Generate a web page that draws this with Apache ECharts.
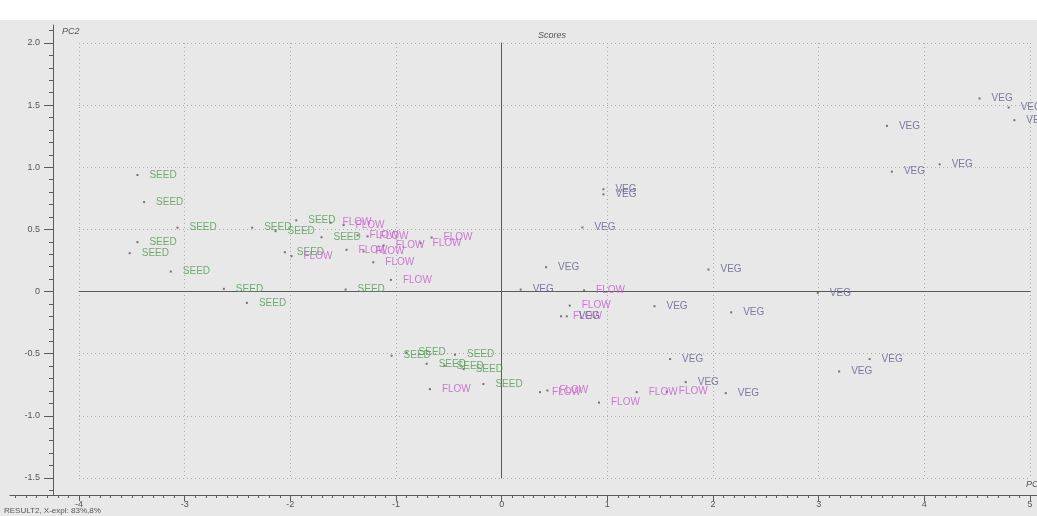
<!DOCTYPE html>
<html>
<head>
<meta charset="utf-8">
<script src="https://cdn.jsdelivr.net/npm/echarts@6/dist/echarts.min.js"></script>
<style>
  html, body { margin: 0; padding: 0; background: #e8e8e8; }
  #chart { width: 1037px; height: 516px; }
</style>
</head>
<body>
<div id="chart"></div>
<script>
// PCA scores (PC1 vs PC2) for the three growth stages
const seedX = [-3.447, -3.384, -3.068, -2.361, -3.447, -3.520, -3.131, -2.629, -2.411, -1.944, -2.140,
               -2.052, -1.705, -1.477, -1.042, -0.900, -0.442, -0.710, -0.540, -0.360, -0.173];
const seedY = [0.938, 0.720, 0.514, 0.514, 0.398, 0.309, 0.161, 0.022, -0.091, 0.573, 0.486,
               0.317, 0.437, 0.016, -0.516, -0.490, -0.508, -0.581, -0.597, -0.624, -0.744];

const flowX = [-1.989, -1.619, -1.496, -1.364, -1.269, -1.468, -1.307, -1.117, -0.663, -0.767, -1.215,
               -1.048, 0.780, 0.644, 0.562, -0.679, 0.363, 0.433, 0.921, 1.278, 1.563];
const flowY = [0.285, 0.554, 0.535, 0.452, 0.444, 0.336, 0.323, 0.371, 0.435, 0.390, 0.236,
               0.094, 0.010, -0.113, -0.199, -0.785, -0.809, -0.796, -0.893, -0.809, -0.806];

const vegX = [0.963, 0.963, 0.764, 0.420, 1.957, 0.180, 0.616, 1.446, 2.172, 2.992, 1.594,
              1.742, 2.121, 3.194, 3.482, 4.523, 4.798, 4.852, 3.646, 4.145, 3.693];
const vegY = [0.823, 0.782, 0.516, 0.196, 0.177, 0.016, -0.199, -0.118, -0.167, -0.011, -0.543,
              -0.728, -0.817, -0.643, -0.543, 1.554, 1.481, 1.379, 1.333, 1.024, 0.965];

const xTickValues = [-4, -3, -2, -1, 0, 1, 2, 3, 4, 5];
const xTickLabels = ['-4', '-3', '-2', '-1', '0', '1', '2', '3', '4', '5'];
const yTickValues = [-1.5, -1, -0.5, 0, 0.5, 1, 1.5, 2];
const yTickLabels = ['-1.5', '-1.0', '-0.5', '0', '0.5', '1.0', '1.5', '2.0'];

const classNames = ['SEED', 'FLOW', 'VEG'];
const classColors = ['#4f9a4f', '#c55ac9', '#5c5c8f'];

// minor tick positions every 0.1 along both outer rulers
function steps(from, to) {
  const out = [];
  for (let i = Math.round(from * 10); i <= Math.round(to * 10); i++) out.push(i / 10);
  return out;
}
const xMinor = steps(-4.6, 5.0);
const yMinor = steps(-1.6, 2.1);

function pairs(xs, ys) { return xs.map((x, i) => [x, ys[i]]); }
const seriesData = [pairs(seedX, seedY), pairs(flowX, flowY), pairs(vegX, vegY)];

const font = 'Liberation Sans, Arial, sans-serif';
const axisGrey = '#5a5a5a';

// outer ruler extents (the ruler frame is wider than the plot frame)
const PLOT = { left: 79, right: 7, top: 43, bottom: 38 };
const RULER = { left: 10, right: 0, top: 25, bottom: 21 };
const ux = (1037 - PLOT.left - PLOT.right) / 9;
const uy = (516 - PLOT.top - PLOT.bottom) / 3.5;
const rxMin = -4 - (PLOT.left - RULER.left) / ux;
const rxMax = 5 + (PLOT.right - RULER.right) / ux;
const ryMin = -1.5 - (PLOT.bottom - RULER.bottom) / uy;
const ryMax = 2 + (PLOT.top - RULER.top) / uy;

const dotted = { show: true, lineStyle: { color: '#a8a8a8', type: [1, 3], width: 1 } };

const chart = echarts.init(document.getElementById('chart'), null, { renderer: 'canvas' });
chart.setOption({
  backgroundColor: '#e8e8e8',
  animation: false,
  grid: [
    Object.assign({}, PLOT),
    Object.assign({}, RULER)
  ],
  xAxis: [
    {
      gridIndex: 0, type: 'value', min: -4, max: 5, interval: 1,
      axisLine: { show: true, onZero: true, lineStyle: { color: axisGrey, width: 1 } },
      axisTick: { show: false }, axisLabel: { show: false },
      splitLine: dotted
    },
    {
      gridIndex: 1, type: 'value', min: rxMin, max: rxMax, position: 'bottom',
      axisLine: { show: true, onZero: false, lineStyle: { color: axisGrey, width: 1 } },
      axisTick: { show: true, length: 6, customValues: xTickValues, lineStyle: { color: axisGrey } },
      axisLabel: {
        show: true, customValues: xTickValues, margin: 5, fontSize: 9, fontFamily: font, color: '#555',
        formatter: v => xTickLabels[xTickValues.indexOf(Math.round(v))]
      },
      splitLine: { show: false }
    },
    {
      gridIndex: 1, type: 'value', min: rxMin, max: rxMax, position: 'bottom',
      axisLine: { show: false, onZero: false },
      axisTick: { show: true, length: 3, customValues: xMinor, lineStyle: { color: axisGrey } },
      axisLabel: { show: false },
      splitLine: { show: false }
    }
  ],
  yAxis: [
    {
      gridIndex: 0, type: 'value', min: -1.5, max: 2, interval: 0.5,
      axisLine: { show: true, onZero: true, lineStyle: { color: axisGrey, width: 1 } },
      axisTick: { show: false }, axisLabel: { show: false },
      splitLine: dotted
    },
    {
      gridIndex: 1, type: 'value', min: ryMin, max: ryMax, position: 'left', offset: -(53 - RULER.left),
      axisLine: { show: true, onZero: false, lineStyle: { color: axisGrey, width: 1 } },
      axisTick: { show: true, length: 9, customValues: yTickValues, lineStyle: { color: axisGrey } },
      axisLabel: {
        show: true, customValues: yTickValues, margin: 13, fontSize: 9, fontFamily: font, color: '#555',
        formatter: v => yTickLabels[yTickValues.findIndex(t => Math.abs(t - v) < 1e-6)]
      },
      splitLine: { show: false }
    },
    {
      gridIndex: 1, type: 'value', min: ryMin, max: ryMax, position: 'left', offset: -(53 - RULER.left),
      axisLine: { show: false, onZero: false },
      axisTick: { show: true, length: 4, customValues: yMinor, lineStyle: { color: axisGrey } },
      axisLabel: { show: false },
      splitLine: { show: false }
    }
  ],
  series: classNames.map((name, i) => ({
    name: name,
    type: 'scatter',
    xAxisIndex: 0, yAxisIndex: 0,
    data: seriesData[i],
    symbol: 'rect', symbolSize: 2,
    itemStyle: { color: '#555' },
    label: {
      show: true, position: 'right', distance: 11,
      formatter: name, color: classColors[i], fontSize: 10, fontFamily: font
    },
    labelLayout: { hideOverlap: false },
    z: 3
  })),
  graphic: [
    { type: 'rect', z: -5, silent: true, shape: { x: 0, y: 0, width: 1037, height: 20 }, style: { fill: '#ffffff' } },
    { type: 'text', left: 62, top: 27, style: { text: 'PC2', font: 'italic 9px ' + font, fill: '#555' } },
    { type: 'text', left: 538, top: 31, style: { text: 'Scores', font: 'italic 9px ' + font, fill: '#555' } },
    { type: 'text', left: 1026, top: 480, style: { text: 'PC1', font: 'italic 9px ' + font, fill: '#555' } },
    { type: 'text', left: 4, top: 507, style: { text: 'RESULT2, X-expl: 83%,8%', font: '8px ' + font, fill: '#555' } }
  ]
});
</script>
</body>
</html>
